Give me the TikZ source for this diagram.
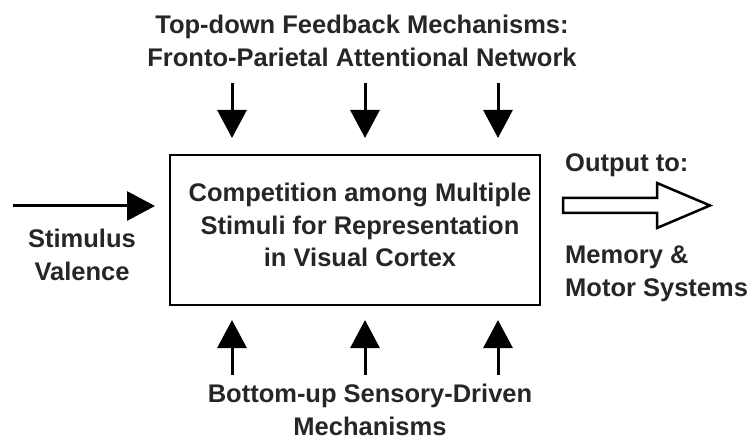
\documentclass[tikz,border=0pt]{standalone}
\usepackage{fontspec}
\setmainfont{Liberation Sans}
\usetikzlibrary{arrows.meta}
\begin{document}
\begin{tikzpicture}[x=1pt,y=-1pt,
  lbl/.style={font=\fontsize{25.5}{32.5}\selectfont\bfseries, text=black!85, align=center, inner sep=0pt},
  arr/.style={line width=3pt, -{Triangle[width=29pt,length=28pt]}}]
\useasboundingbox (0,0) rectangle (753,441);
\node[draw, line width=2pt, minimum width=370pt, minimum height=150pt, inner sep=0pt] (box) at (355,230) {};
\node[lbl] (boxtext) at (360,225) {Competition among Multiple\\Stimuli for Representation\\in Visual Cortex};
\node[lbl] (top) at (362,41) {Top-down Feedback Mechanisms:\\Fronto-Parietal Attentional Network};
\node[lbl] (bottom) at (370,410) {Bottom-up Sensory-Driven\\Mechanisms};
\node[lbl] (stim) at (82,255) {Stimulus\\Valence};
\node[lbl, anchor=west] (out) at (565,165) {Output to:};
\node[lbl, align=left, anchor=west] (mem) at (565,274) {Memory \&\\Motor Systems};
\foreach \i/\x in {1/232,2/365,3/498}{
  \coordinate (ts\i) at (\x,83);
  \coordinate (te\i) at (\x,138);
  \coordinate (bs\i) at (\x,375);
  \coordinate (be\i) at (\x,320);
  \draw[arr] (ts\i) -- (te\i);
  \draw[arr] (bs\i) -- (be\i);
}
\coordinate (sl) at (13,206);
\coordinate (se) at (155,206);
\draw[arr] (sl) -- (se);
\draw[line width=2.5pt, line join=miter, fill=white]
  (563,198) -- (657,198) -- (657,183) -- (710,205.5) -- (657,228) -- (657,213) -- (563,213) -- cycle;
\end{tikzpicture}
\end{document}
